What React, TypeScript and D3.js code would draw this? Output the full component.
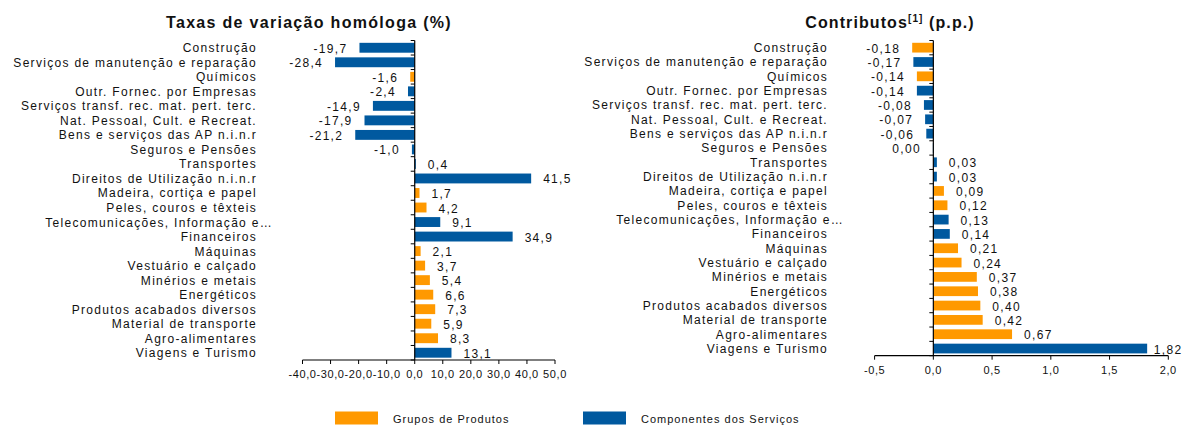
import React from "react";
import * as d3 from "d3";

const categories = [
  "Construção",
  "Serviços de manutenção e reparação",
  "Químicos",
  "Outr. Fornec. por Empresas",
  "Serviços transf. rec. mat. pert. terc.",
  "Nat. Pessoal, Cult. e Recreat.",
  "Bens e serviços das AP n.i.n.r",
  "Seguros e Pensões",
  "Transportes",
  "Direitos de Utilização n.i.n.r",
  "Madeira, cortiça e papel",
  "Peles, couros e têxteis",
  "Telecomunicações, Informação e…",
  "Financeiros",
  "Máquinas",
  "Vestuário e calçado",
  "Minérios e metais",
  "Energéticos",
  "Produtos acabados diversos",
  "Material de transporte",
  "Agro-alimentares",
  "Viagens e Turismo",
];

const growthRates = [
  -19.7, -28.4, -1.6, -2.4, -14.9, -17.9, -21.2, -1.0, 0.4, 41.5, 1.7, 4.2, 9.1, 34.9, 2.1, 3.7,
  5.4, 6.6, 7.3, 5.9, 8.3, 13.1,
];
const growthGroups = [
  "S", "S", "P", "S", "S", "S", "S", "S", "S", "S", "P", "P", "S", "S", "P", "P", "P", "P", "P",
  "P", "P", "S",
];

const contributions = [
  -0.18, -0.17, -0.14, -0.14, -0.08, -0.07, -0.06, -0.004, 0.03, 0.03, 0.09, 0.12, 0.13, 0.14,
  0.21, 0.24, 0.37, 0.38, 0.4, 0.42, 0.67, 1.82,
];
const contributionGroups = [
  "P", "S", "P", "S", "S", "S", "S", "S", "S", "S", "P", "P", "S", "S", "P", "P", "P", "P", "P",
  "P", "P", "S",
];

const growthTicks = [-40, -30, -20, -10, 0, 10, 20, 30, 40, 50];
const contributionTicks = [-0.5, 0, 0.5, 1, 1.5, 2];

const groupKeys = ["P", "S"];
const groupLabels = ["Grupos de Produtos", "Componentes dos Serviços"];
const groupColors = ["#FF9900", "#00599F"];

const locale = d3.formatLocale({
  decimal: ",",
  thousands: ".",
  grouping: [3],
  currency: ["", ""],
  minus: "-",
});

const FONT = "'Liberation Sans', Arial, sans-serif";
const TEXT = "#111";
const color = d3.scaleOrdinal<string, string>().domain(groupKeys).range(groupColors);

type PanelProps = {
  values: number[];
  groups: string[];
  domain: [number, number];
  xRange: [number, number];
  yRange: [number, number];
  ticks: number[];
  tickFmt: (n: number) => string;
  valFmt: (n: number) => string;
  labelX: number;
};

function Panel(p: PanelProps) {
  const x = d3.scaleLinear().domain(p.domain).range(p.xRange);
  const y = d3
    .scaleBand<string>()
    .domain(categories)
    .range(p.yRange)
    .paddingInner(0.32)
    .paddingOuter(0.16);
  const step = y.step();
  const x0 = x(0);
  const bottom = p.yRange[1];
  return (
    <g fontFamily={FONT} fill={TEXT}>
      {categories.map((c, i) => {
        const v = p.values[i];
        const yy = y(c)!;
        const bx = Math.min(x(v), x0);
        const bw = Math.abs(x(v) - x0);
        const cy = yy + y.bandwidth() / 2;
        const trunc = c.endsWith("…");
        const label = p.valFmt(v);
        const estW = label.length * 7.3;
        const vx = v < 0 ? x(v) - 12 : Math.min(x(v) + 12, 1183 - estW);
        return (
          <g key={c}>
            <rect x={bx} y={yy} width={Math.max(bw, 0.8)} height={y.bandwidth()} fill={color(p.groups[i])} />
            <text
              x={vx}
              y={cy + 5}
              textAnchor={v < 0 ? "end" : "start"}
              fontSize={12}
              letterSpacing={1.3}
            >
              {label}
            </text>
            <text
              x={p.labelX + (trunc ? 16 : 0)}
              y={cy + 4.5}
              textAnchor="end"
              fontSize={12}
              letterSpacing={1.3}
            >
              {c}
            </text>
          </g>
        );
      })}
      {/* category axis */}
      <line x1={x0} x2={x0} y1={p.yRange[0]} y2={bottom} stroke="#000" strokeWidth={1.2} />
      {d3.range(categories.length + 1).map((i) => {
        const ty = p.yRange[0] + i * step;
        return <line key={"ct" + i} x1={x0 - 4} x2={x0} y1={ty} y2={ty} stroke="#000" strokeWidth={1} />;
      })}
      {/* value axis */}
      <line x1={p.xRange[0]} x2={p.xRange[1]} y1={bottom} y2={bottom} stroke="#000" strokeWidth={1.2} />
      {p.ticks.map((t) => (
        <g key={"vt" + t}>
          <line x1={x(t)} x2={x(t)} y1={bottom} y2={bottom + 4} stroke="#000" strokeWidth={1} />
          <text x={x(t)} y={bottom + 18} textAnchor="middle" fontSize={11} letterSpacing={0.6}>
            {p.tickFmt(t)}
          </text>
        </g>
      ))}
    </g>
  );
}

export default function App() {
  const fmt1 = locale.format(".1f");
  const fmt2 = locale.format(".2f");
  return (
    <div style={{ position: "absolute", left: 0, top: 0 }}>
      <svg width={1184} height={426} style={{ display: "block", background: "#fff" }}>
        <rect width={1184} height={426} fill="#fff" />
        <text
          x={309}
          y={28}
          textAnchor="middle"
          fontFamily={FONT}
          fontWeight="bold"
          fontSize={16}
          letterSpacing={1.3}
          fill={TEXT}
        >
          Taxas de variação homóloga (%)
        </text>
        <text
          x={890}
          y={28}
          textAnchor="middle"
          fontFamily={FONT}
          fontWeight="bold"
          fontSize={16}
          letterSpacing={1.1}
          fill={TEXT}
        >
          Contributos
          <tspan fontSize={10} dy={-6}>
            [1]
          </tspan>
          <tspan dy={6}> (p.p.)</tspan>
        </text>
        <Panel
          values={growthRates}
          groups={growthGroups}
          domain={[-40, 50]}
          xRange={[302.5, 555]}
          yRange={[40.5, 360]}
          ticks={growthTicks}
          tickFmt={fmt1}
          valFmt={fmt1}
          labelX={257}
        />
        <Panel
          values={contributions}
          groups={contributionGroups}
          domain={[-0.5, 2]}
          xRange={[874.6, 1168.3]}
          yRange={[40.5, 355.7]}
          ticks={contributionTicks}
          tickFmt={fmt1}
          valFmt={fmt2}
          labelX={828}
        />
        {groupKeys.map((k, i) => {
          const lx = [335, 583][i];
          return (
            <g key={k} fontFamily={FONT}>
              <rect x={lx} y={411.5} width={43} height={13} fill={color(k)} />
              <text x={lx + 58} y={423} fontSize={11} letterSpacing={1.0} fill={TEXT}>
                {groupLabels[i]}
              </text>
            </g>
          );
        })}
      </svg>
    </div>
  );
}
